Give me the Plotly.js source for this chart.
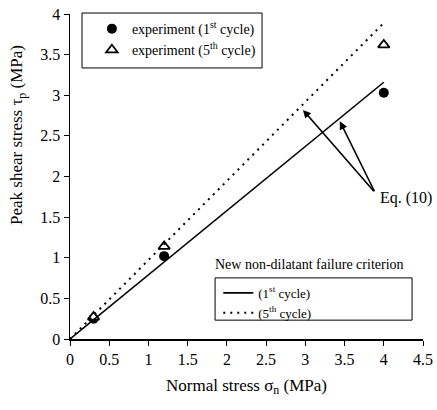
<!DOCTYPE html>
<html>
<head>
<meta charset="utf-8">
<script src="https://cdn.plot.ly/plotly-3.0.1.min.js"></script>
<style>html,body{margin:0;padding:0;background:#fff;}#chart{width:437px;height:410px;}</style>
</head>
<body>
<div id="chart"></div>
<script>
// Experimental data
const sigmaExp = [0.3, 1.2, 4.0];
const tauCycle1 = [0.25, 1.02, 3.03];
const tauCycle5 = [0.27, 1.14, 3.62];
// Failure criterion lines (Eq. 10)
const sigmaLine = [0, 4.0];
const tauLine1 = [0, 3.16];
const tauLine5 = [0, 3.89];
// Tick labels
const xTicks = [0, 0.5, 1, 1.5, 2, 2.5, 3, 3.5, 4, 4.5];
const xTickText = ['0', '0.5', '1', '1.5', '2', '2.5', '3', '3.5', '4', '4.5'];
const yTicks = [0, 0.5, 1, 1.5, 2, 2.5, 3, 3.5, 4];
const yTickText = ['0', '0.5', '1', '1.5', '2', '2.5', '3', '3.5', '4'];
// Annotation "Eq. (10)" arrow tail and heads
const eqLabel = 'Eq. (10)';
const eqTail = [3.89, 1.80];
const eqHeadsX = [2.97, 3.44];
const eqHeadsY = [2.82, 2.68];

const FONT = '"Liberation Serif", serif';

const traces = [
  {x: sigmaExp, y: tauCycle1, mode: 'markers', name: 'experiment (1<sup>st</sup> cycle)',
   marker: {symbol: 'circle', size: 10, color: '#000'}, legend: 'legend', cliponaxis: false},
  {x: sigmaExp, y: tauCycle5, mode: 'markers', name: 'experiment (5<sup>th</sup> cycle)',
   marker: {symbol: 'triangle-up', size: 10, color: '#fff', line: {width: 1.8, color: '#000'}}, legend: 'legend', cliponaxis: false},
  {x: sigmaLine, y: tauLine1, mode: 'lines', name: '(1<sup>st</sup> cycle)',
   line: {color: '#000', width: 1.6}, legend: 'legend2'},
  {x: sigmaLine, y: tauLine5, mode: 'lines', name: '(5<sup>th</sup> cycle)',
   line: {color: '#000', width: 2, dash: '2px,5px'}, legend: 'legend2'}
];

const annotations = [
  {x: eqTail[0] + 0.04, y: eqTail[1] - 0.06, xref: 'x', yref: 'y', text: eqLabel, showarrow: false,
   xanchor: 'left', yanchor: 'middle', font: {family: FONT, size: 16, color: '#000'}},
  {xref: 'paper', yref: 'paper', x: 0.405, y: 0.228, xanchor: 'left', yanchor: 'middle',
   text: 'New non-dilatant failure criterion', showarrow: false,
   font: {family: FONT, size: 14, color: '#000'}},
  {xref: 'paper', yref: 'paper', x: -0.147, y: 0.628, xanchor: 'center', yanchor: 'middle',
   textangle: -90, text: 'Peak shear stress τ<sub>p</sub> (MPa)', showarrow: false,
   font: {family: FONT, size: 17, color: '#000'}}
];
for (let i = 0; i < eqHeadsX.length; i++) {
  annotations.push({x: eqHeadsX[i], y: eqHeadsY[i], xref: 'x', yref: 'y',
    ax: eqTail[0], ay: eqTail[1], axref: 'x', ayref: 'y', text: '', showarrow: true,
    arrowhead: 2, arrowsize: 1, arrowwidth: 1.6, arrowcolor: '#000'});
}

const shapes = [
  {type: 'rect', xref: 'paper', yref: 'paper', x0: 0.034, x1: 0.544, y0: 0.834, y1: 1.003,
   line: {color: '#000', width: 1}, fillcolor: 'rgba(0,0,0,0)', layer: 'above'},
  {type: 'rect', xref: 'paper', yref: 'paper', x0: 0.411, x1: 0.969, y0: 0.058, y1: 0.188,
   line: {color: '#000', width: 1}, fillcolor: 'rgba(0,0,0,0)', layer: 'above'}
];

const layout = {
  width: 437, height: 410,
  margin: {l: 70, r: 14, t: 14, b: 71},
  paper_bgcolor: '#fff', plot_bgcolor: '#fff',
  font: {family: FONT, size: 16, color: '#000'},
  showlegend: true,
  xaxis: {range: [0, 4.5], tickvals: xTicks, ticktext: xTickText, showgrid: false, zeroline: false,
    showline: true, linecolor: '#000', linewidth: 1.5, ticks: 'outside', ticklen: 5, tickcolor: '#000',
    tickfont: {family: FONT, size: 16}, mirror: false,
    title: {text: 'Normal stress σ<sub>n</sub> (MPa)', font: {family: FONT, size: 17}, standoff: 12}},
  yaxis: {range: [0, 4], tickvals: yTicks, ticktext: yTickText, showgrid: false, zeroline: false,
    showline: true, linecolor: '#000', linewidth: 1.5, ticks: 'outside', ticklen: 5, tickcolor: '#000',
    tickfont: {family: FONT, size: 16}},
  legend: {x: 0.062, y: 1.003, xanchor: 'left', yanchor: 'top', bgcolor: 'rgba(0,0,0,0)',
    borderwidth: 0, font: {family: FONT, size: 14}, tracegroupgap: 0},
  legend2: {x: 0.42, y: 0.188, xanchor: 'left', yanchor: 'top', bgcolor: 'rgba(0,0,0,0)',
    borderwidth: 0, font: {family: FONT, size: 13}, tracegroupgap: 0},
  shapes: shapes,
  annotations: annotations
};

Plotly.newPlot('chart', traces, layout, {displayModeBar: false, staticPlot: true});
</script>
</body>
</html>
